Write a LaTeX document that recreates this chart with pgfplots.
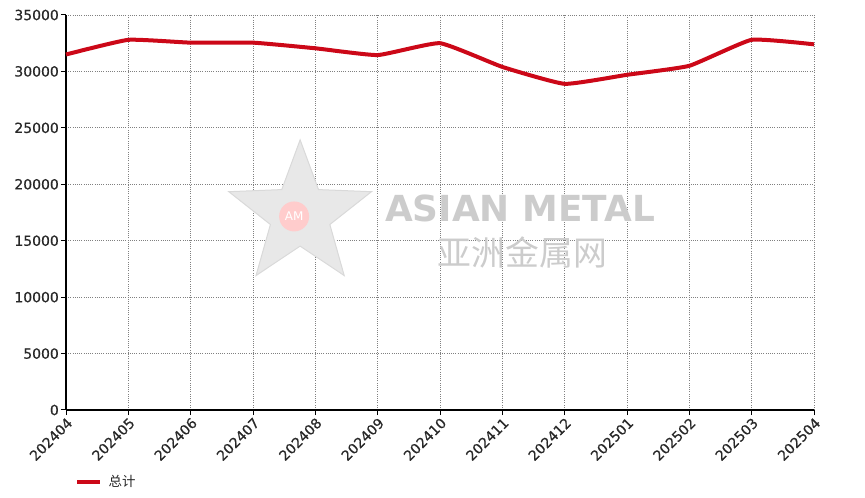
\documentclass[border=0pt]{standalone}
\usepackage{pgfplots}
\pgfplotsset{compat=1.18}
\usepackage{fontspec}
\setmainfont{DejaVu Sans}
\newfontfamily\cjk{Noto Sans CJK SC}
\newfontfamily\lab[FakeBold=0.5]{DejaVu Sans}
\newfontfamily\wm{DejaVu Sans}
\usetikzlibrary{shapes.geometric}
\definecolor{lred}{RGB}{204,8,24}
\definecolor{tick}{RGB}{40,40,40}
\begin{document}
\begin{tikzpicture}
\path[use as bounding box] (0,0) rectangle (865bp,498bp);
\begin{axis}[
  at={(66bp,88bp)}, anchor=south west,
  scale only axis, width=748bp, height=395bp,
  xmin=0, xmax=12, ymin=0, ymax=35000,
  axis x line=bottom, axis y line=left,
  axis line style={-, line width=1.2bp, black},
  xtick={0,...,12},
  xticklabels={202404,202405,202406,202407,202408,202409,202410,202411,202412,202501,202502,202503,202504},
  ytick={0,5000,...,35000},
  scaled y ticks=false,
  yticklabel style={/pgf/number format/1000 sep={}},
  /pgf/number format/assume math mode=true,
  tick label style={font=\lab\fontsize{14}{16}\selectfont, text=tick},
  xticklabel style={rotate=45, anchor=north east, inner sep=1bp},
  yticklabel style={inner sep=2bp},
  tick align=outside, tickwidth=5bp,
  major tick style={black, line width=1bp},
  grid=major,
  grid style={gray, line width=0.8bp, dash pattern=on 1bp off 1.2bp},
  legend style={at={(rel axis cs:0.012,-0.182)}, anchor=west, draw=none, fill=none,
    font=\cjk\fontsize{13.5}{15}\selectfont, text=tick, inner sep=0pt,
    /tikz/every even column/.append style={column sep=0pt}},
  legend image code/.code={\draw[#1, line width=4.5bp] (0bp,0bp) -- (23bp,0bp);},
  clip=false,
]
\node[star, star points=5, star point ratio=2.4, minimum size=150bp, fill=gray!18, draw=gray!30, line width=1bp] at (rel axis cs:0.313,0.494) {};
\node[circle, fill=red!20, minimum size=30bp, text=white, font=\wm\fontsize{12}{14}\selectfont] at (rel axis cs:0.305,0.49) {AM};
\node[text=gray!40, font=\wm\bfseries\fontsize{36}{40}\selectfont] at (rel axis cs:0.607,0.511) {ASIAN METAL};
\node[text=gray!40, font=\cjk\fontsize{34}{38}\selectfont] at (rel axis cs:0.61,0.40) {亚洲金属网};
\addplot[lred, line width=4bp, smooth, tension=0.25] coordinates {
(0,31500) (1,32800) (2,32550) (3,32550) (4,32050) (5,31450) (6,32500) (7,30400) (8,28900) (9,29700) (10,30500) (11,32800) (12,32400)
};
\addlegendentry{\hspace{4bp}总计}
\end{axis}
\end{tikzpicture}
\end{document}
